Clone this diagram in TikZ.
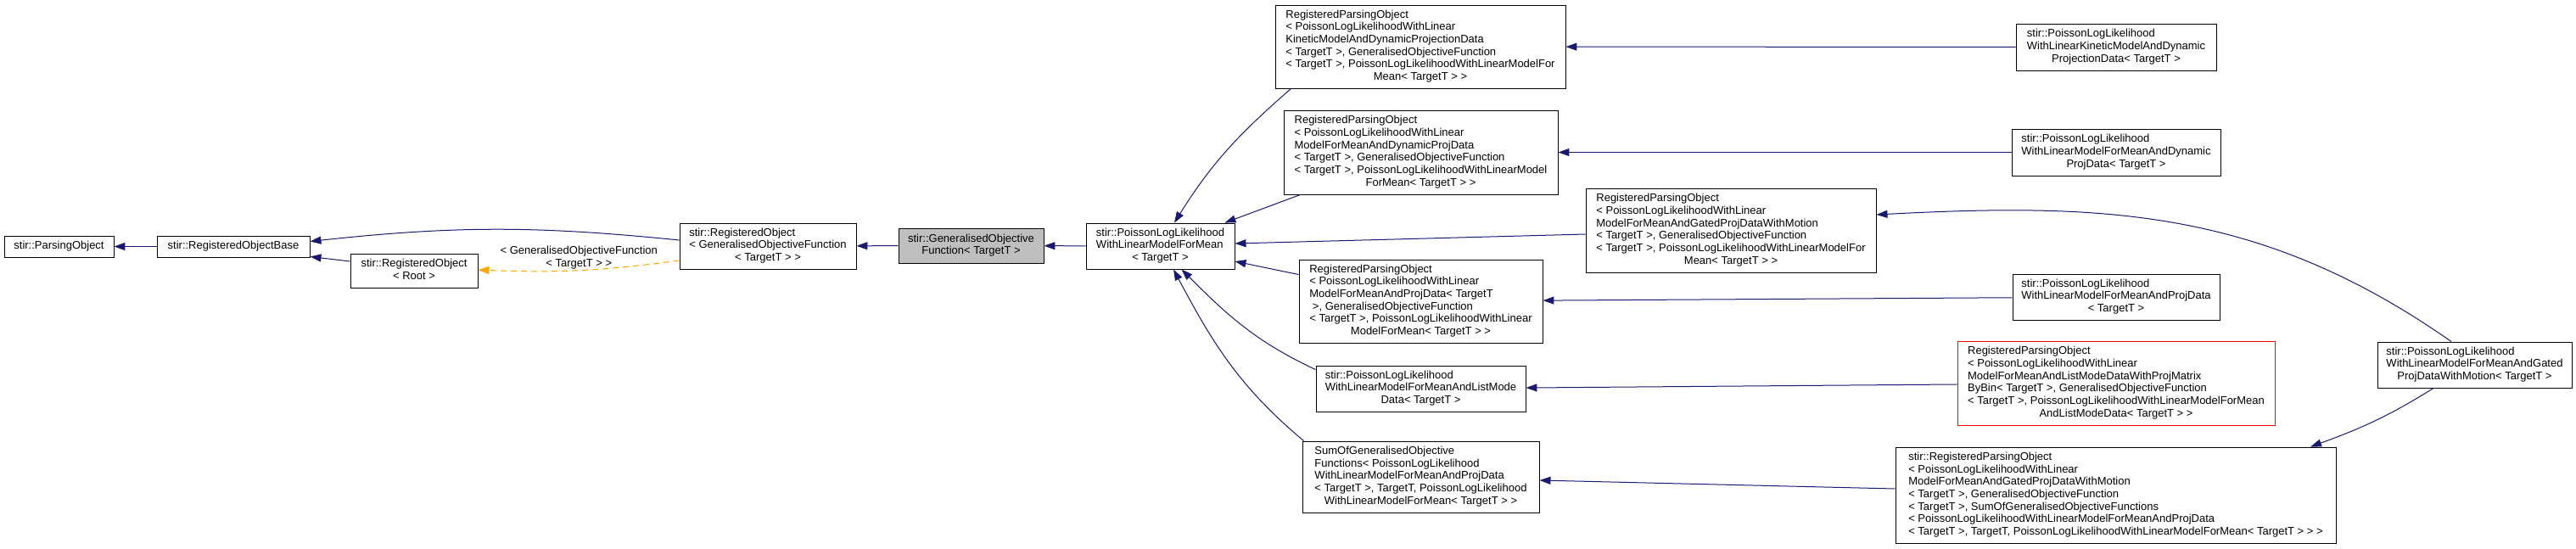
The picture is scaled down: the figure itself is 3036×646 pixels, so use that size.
\documentclass[tikz,border=0pt]{standalone}
\usepackage{fontspec}
\setmainfont{Liberation Sans}
\usetikzlibrary{arrows.meta}
\definecolor{edgeblue}{HTML}{191970}
\definecolor{usageorange}{HTML}{FFA500}
\definecolor{focusgray}{HTML}{BFBFBF}
\newcommand{\cls}[2]{\begin{tabular}{@{}l@{}}#1\\\multicolumn{1}{@{}c@{}}{#2}\end{tabular}}

\begin{document}
\begin{tikzpicture}[x=1pt, y=1pt,
    cls/.style={draw, rectangle, fill=white, line width=0.9pt, inner sep=2pt, font=\fontsize{13}{14.7}\selectfont},
    inherit/.style={draw=edgeblue, line width=1pt, -{Triangle[length=13pt,width=9pt]}},
    usage/.style={draw=usageorange, line width=1pt, dash pattern=on 7pt off 5pt, -{Triangle[length=13pt,width=9pt,fill=usageorange]}},
    lbl/.style={font=\fontsize{13}{14.7}\selectfont, align=center, inner sep=1pt}]
    \useasboundingbox (0,0) rectangle (3036,-646);

    \node[cls, minimum width=129pt, minimum height=25pt] (parsing) at (69.5,-290.5) {stir::ParsingObject};
    \node[cls, minimum width=180pt, minimum height=25pt] (robase) at (275,-290.5) {stir::RegisteredObjectBase};
    \node[cls, minimum width=150pt, minimum height=40pt] (roroot) at (488,-319) {\cls{stir::RegisteredObject}{< Root >}};
    \node[cls, minimum width=208pt, minimum height=54pt] (rogof) at (905,-290) {\cls{stir::RegisteredObject\\< GeneralisedObjectiveFunction}{< TargetT > >}};
    \node[cls, fill=focusgray, minimum width=171pt, minimum height=41pt] (gof) at (1144.5,-289.5) {\cls{stir::GeneralisedObjective}{Function< TargetT >}};
    \node[cls, minimum width=175pt, minimum height=54pt] (pll) at (1367.5,-290) {\cls{stir::PoissonLogLikelihood\\WithLinearModelForMean}{< TargetT >}};

    \node[cls, minimum width=342pt, minimum height=98pt] (rpokin) at (1674,-55) {\cls{RegisteredParsingObject\\< PoissonLogLikelihoodWithLinear\\KineticModelAndDynamicProjectionData\\< TargetT >, GeneralisedObjectiveFunction\\< TargetT >, PoissonLogLikelihoodWithLinearModelFor}{Mean< TargetT > >}};
    \node[cls, minimum width=323pt, minimum height=99pt] (rpodyn) at (1674.5,-179.5) {\cls{RegisteredParsingObject\\< PoissonLogLikelihoodWithLinear\\ModelForMeanAndDynamicProjData\\< TargetT >, GeneralisedObjectiveFunction\\< TargetT >, PoissonLogLikelihoodWithLinearModel}{ForMean< TargetT > >}};
    \node[cls, minimum width=342pt, minimum height=99pt] (rpogated) at (2040,-271.5) {\cls{RegisteredParsingObject\\< PoissonLogLikelihoodWithLinear\\ModelForMeanAndGatedProjDataWithMotion\\< TargetT >, GeneralisedObjectiveFunction\\< TargetT >, PoissonLogLikelihoodWithLinearModelFor}{Mean< TargetT > >}};
    \node[cls, minimum width=287pt, minimum height=98pt] (rpoproj) at (1674.5,-355) {\cls{RegisteredParsingObject\\< PoissonLogLikelihoodWithLinear\\ModelForMeanAndProjData< TargetT\\\ >, GeneralisedObjectiveFunction\\< TargetT >, PoissonLogLikelihoodWithLinear}{ModelForMean< TargetT > >}};
    \node[cls, minimum width=247pt, minimum height=54pt] (listmode) at (1674.5,-458) {\cls{stir::PoissonLogLikelihood\\WithLinearModelForMeanAndListMode}{Data< TargetT >}};
    \node[cls, minimum width=279pt, minimum height=84pt] (sumof) at (1674.5,-562) {\cls{SumOfGeneralisedObjective\\Functions< PoissonLogLikelihood\\WithLinearModelForMeanAndProjData\\< TargetT >, TargetT, PoissonLogLikelihood}{WithLinearModelForMean< TargetT > >}};

    \node[cls, minimum width=236pt, minimum height=55pt] (kintgt) at (2494,-55.5) {\cls{stir::PoissonLogLikelihood\\WithLinearKineticModelAndDynamic}{ProjectionData< TargetT >}};
    \node[cls, minimum width=246pt, minimum height=55pt] (dyntgt) at (2494,-179.5) {\cls{stir::PoissonLogLikelihood\\WithLinearModelForMeanAndDynamic}{ProjData< TargetT >}};
    \node[cls, minimum width=244pt, minimum height=54pt] (projtgt) at (2494,-350) {\cls{stir::PoissonLogLikelihood\\WithLinearModelForMeanAndProjData}{< TargetT >}};
    \node[cls, draw=red, minimum width=374pt, minimum height=99pt] (redrpo) at (2494,-451.5) {\cls{RegisteredParsingObject\\< PoissonLogLikelihoodWithLinear\\ModelForMeanAndListModeDataWithProjMatrix\\ByBin< TargetT >, GeneralisedObjectiveFunction\\< TargetT >, PoissonLogLikelihoodWithLinearModelForMean}{AndListModeData< TargetT > >}};
    \node[cls, minimum width=519pt, minimum height=113pt] (srpogated) at (2493.5,-583.5) {\cls{stir::RegisteredParsingObject\\< PoissonLogLikelihoodWithLinear\\ModelForMeanAndGatedProjDataWithMotion\\< TargetT >, GeneralisedObjectiveFunction\\< TargetT >, SumOfGeneralisedObjectiveFunctions\\< PoissonLogLikelihoodWithLinearModelForMeanAndProjData}{< TargetT >, TargetT, PoissonLogLikelihoodWithLinearModelForMean< TargetT > > >}};
    \node[cls, minimum width=229pt, minimum height=54pt] (gatedtgt) at (2916.5,-430) {\cls{stir::PoissonLogLikelihood\\WithLinearModelForMeanAndGated}{ProjDataWithMotion< TargetT >}};

    \draw[inherit] (robase) -- (parsing);
    \draw[inherit] ([yshift=11pt]roroot.west) -- ([yshift=1pt]robase.south east);
    \draw[inherit] ([yshift=7pt]rogof.west) to[bend right=6] ([yshift=6pt]robase.east);
    \draw[usage] ([yshift=-17pt]rogof.west) to[bend left=5] node[lbl, above] {< GeneralisedObjectiveFunction\\< TargetT > >} ([yshift=1pt]roroot.east);
    \draw[inherit] (gof) -- (rogof);
    \draw[inherit] (pll) -- (gof);

    \draw[inherit] ([xshift=19pt]rpokin.south west) to[out=221,in=58] ([xshift=16.5pt]pll.north);
    \draw[inherit] ([xshift=20pt]rpodyn.south west) -- ([xshift=-12pt]pll.north east);
    \draw[inherit] ([yshift=-4.5pt]rpogated.west) -- ([yshift=3pt]pll.east);
    \draw[inherit] ([yshift=-18pt]rpoproj.north west) -- ([yshift=-18pt]pll.east);
    \draw[inherit] ([yshift=-5pt]listmode.north west) to[out=155,in=-45] ([xshift=25pt]pll.south);
    \draw[inherit] ([xshift=2pt]sumof.north west) to[out=140,in=-62] ([xshift=15.5pt]pll.south);

    \draw[inherit] (kintgt) -- (rpokin);
    \draw[inherit] (dyntgt) -- (rpodyn);
    \draw[inherit] (projtgt) -- (rpoproj);
    \draw[inherit] (redrpo) -- (listmode);
    \draw[inherit] ([yshift=7.5pt]srpogated.west) -- ([yshift=-4pt]sumof.east);
    \draw[inherit] ([xshift=-27.5pt]gatedtgt.north) to[out=145,in=3] ([yshift=18.5pt]rpogated.east);
    \draw[inherit] ([xshift=-48.5pt]gatedtgt.south) to[out=212,in=20] ([xshift=229.5pt]srpogated.north);
\end{tikzpicture}
\end{document}
